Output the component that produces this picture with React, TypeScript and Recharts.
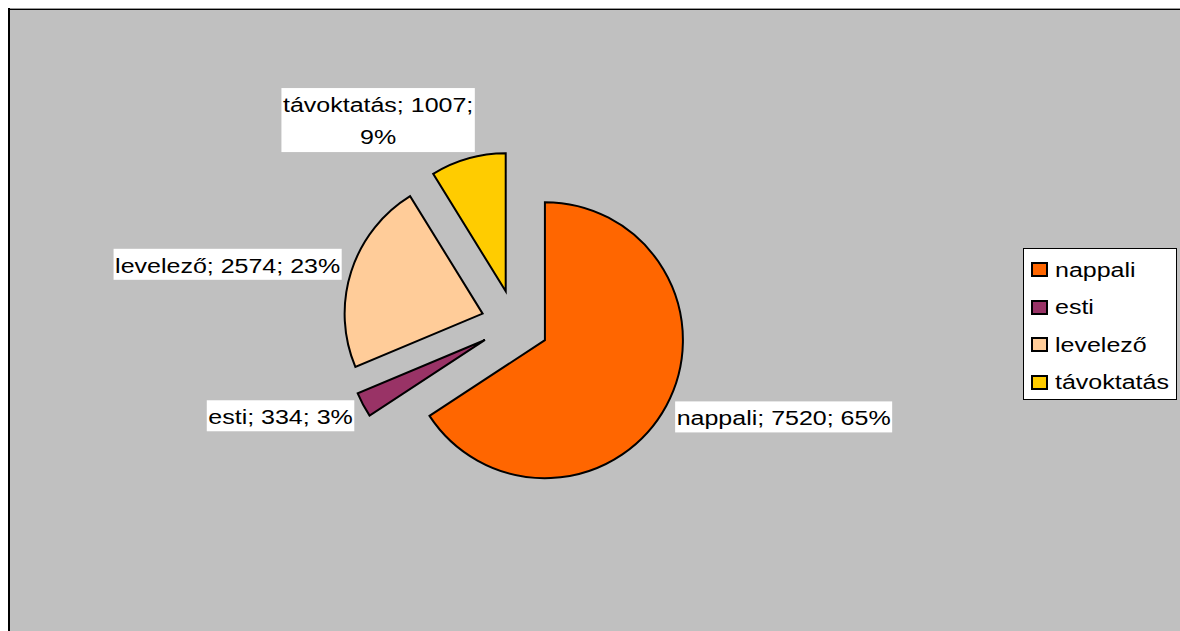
import { PieChart, Pie, Cell } from 'recharts';

// ─── Data ────────────────────────────────────────────────────────────────────
const categories = ['nappali', 'esti', 'levelező', 'távoktatás'];
const counts = [7520, 334, 2574, 1007];
const percentLabels = [65, 3, 23, 9];
const sliceColors = ['#FF6600', '#993366', '#FFCC99', '#FFCC00'];

const slices = categories.map((name, i) => ({ name, value: counts[i], pct: percentLabels[i] }));

// ─── Layout ──────────────────────────────────────────────────────────────────
const WIDTH = 1180;
const HEIGHT = 631;
const CX = 515;
const CY = 324;
const R = 138;
const EXPLODE = 34;
const FONT = '"Liberation Sans", Arial, sans-serif';
const FS = 20;
const SX = 1.25; // the original is stretched horizontally
const RAD = Math.PI / 180;

const total = counts.reduce((a, b) => a + b, 0);
const midAngles = counts.map((v, i) => {
  const before = counts.slice(0, i).reduce((a, b) => a + b, 0);
  return 90 - (360 * (before + v / 2)) / total;
});

// Arial advance widths (per 1000 em)
const CHAR_W: Record<string, number> = {
  i: 222, l: 222, t: 278, ';': 278, ' ': 278, '%': 889,
  s: 500, v: 500, z: 500, k: 500, c: 500,
};
const textWidth = (s: string) =>
  ([...s].reduce((w, ch) => w + (CHAR_W[ch] ?? 556), 0) / 1000) * FS * SX;

// ─── Label ───────────────────────────────────────────────────────────────────
const makeLabel = (k: number) => (props: any) => {
  const { cx, cy, midAngle, outerRadius, index, name, value, payload } = props;
  if (index !== k) return null;
  const dirX = Math.cos(midAngle * RAD);
  const dirY = -Math.sin(midAngle * RAD);
  const ox = cx + outerRadius * dirX;
  const oy = cy + outerRadius * dirY;
  const pct = payload?.pct ?? percentLabels[index];
  const lines = Math.abs(dirX) < 0.5
    ? [`${name}; ${value};`, `${pct}%`]
    : [`${name}; ${value}; ${pct}%`];
  const w = Math.max(...lines.map(textWidth)) + 3;
  const h = lines.length === 1 ? 31 : lines.length * 32;
  const bcx = ox + dirX * 10 + Math.sign(dirX) * (w / 2) * Math.min(1, Math.abs(dirX) * 3.3);
  const bcy = oy + dirY * (8 + h / 2);
  const top = bcy - h / 2;
  return (
    <g>
      <rect x={bcx - w / 2} y={top} width={w} height={h} fill="#fff" />
      {lines.map((ln, i) => (
        <text
          key={i}
          x={0}
          y={top + 24 + i * 32}
          transform={`translate(${bcx} 0) scale(${SX} 1)`}
          textAnchor="middle"
          fontFamily={FONT}
          fontSize={FS}
          fill="#000"
        >
          {ln}
        </text>
      ))}
    </g>
  );
};

// ─── Legend ──────────────────────────────────────────────────────────────────
function LegendBox() {
  return (
    <div
      style={{
        position: 'absolute', left: 1023, top: 248, width: 154, height: 152,
        background: '#fff', border: '1px solid #000', boxSizing: 'border-box',
      }}
    >
      {categories.map((c, i) => (
        <div
          key={c}
          style={{
            position: 'absolute', left: 0, top: 2 + i * 37.5, height: 37.5, width: '100%',
            display: 'flex', alignItems: 'center',
          }}
        >
          <div
            style={{
              position: 'absolute', left: 7, width: 17, height: 15, boxSizing: 'border-box',
              background: sliceColors[i], border: '2px solid #000',
            }}
          />
          <span
            style={{
              position: 'absolute', left: 31, fontFamily: FONT, fontSize: FS, color: '#000',
              transform: `scaleX(${SX})`, transformOrigin: 'left center', whiteSpace: 'nowrap',
              lineHeight: '20px',
            }}
          >
            {c}
          </span>
        </div>
      ))}
    </div>
  );
}

// ─── App ─────────────────────────────────────────────────────────────────────
export default function App() {
  return (
    <div style={{ position: 'absolute', left: 0, top: 0, width: WIDTH, height: HEIGHT, overflow: 'hidden', background: '#C0C0C0' }}>
      {/* chart frame: only the left and top edges fall inside the picture */}
      <div style={{ position: 'absolute', left: 0, top: 0, width: WIDTH, height: 8, background: '#fff' }} />
      <div style={{ position: 'absolute', left: 0, top: 0, width: 8, height: HEIGHT, background: '#fff' }} />
      <div style={{ position: 'absolute', left: 8, top: 8, width: WIDTH - 8, height: 1, background: '#999' }} />
      <div style={{ position: 'absolute', left: 8, top: 9, width: WIDTH - 8, height: 1, background: '#000' }} />
      <div style={{ position: 'absolute', left: 8, top: 8, width: 2, height: HEIGHT - 8, background: '#000' }} />
      <div style={{ position: 'absolute', left: 0, top: 0 }}>
        <PieChart width={WIDTH} height={HEIGHT} margin={{ top: 0, right: 0, bottom: 0, left: 0 }}>
          {slices.map((s, k) => (
            <Pie
              key={s.name}
              data={slices}
              dataKey="value"
              nameKey="name"
              cx={CX + EXPLODE * Math.cos(midAngles[k] * RAD)}
              cy={CY - EXPLODE * Math.sin(midAngles[k] * RAD)}
              outerRadius={R}
              startAngle={90}
              endAngle={-270}
              isAnimationActive={false}
              label={makeLabel(k)}
              labelLine={false}
            >
              {slices.map((_, i) => (
                <Cell
                  key={i}
                  fill={i === k ? sliceColors[i] : 'none'}
                  stroke={i === k ? '#000' : 'none'}
                  strokeWidth={2}
                />
              ))}
            </Pie>
          ))}
        </PieChart>
      </div>
      <LegendBox />
    </div>
  );
}
